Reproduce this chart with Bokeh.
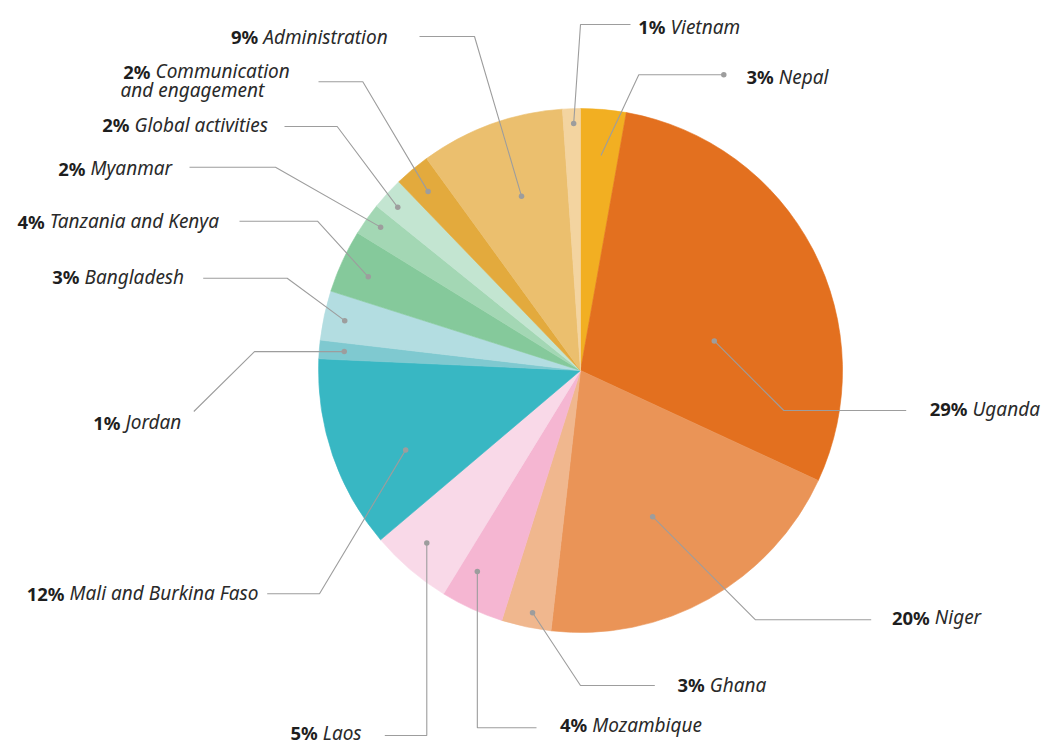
import math
from bokeh.plotting import figure
from bokeh.models import Range1d, ColumnDataSource
from bokeh.core.properties import value
from bokeh.embed import file_html
from bokeh.resources import INLINE

# ---------------- data ----------------
names = ["Nepal", "Uganda", "Niger", "Ghana", "Mozambique", "Laos",
         "Mali and Burkina Faso", "Jordan", "Bangladesh", "Tanzania and Kenya",
         "Myanmar", "Global activities", "Communication\nand engagement",
         "Administration", "Vietnam"]
shares = [2.8, 29.1, 19.9, 3.06, 3.9, 5.06, 11.9, 1.14, 3.05, 3.9,
          2.0, 2.0, 2.2, 8.9, 1.1]
pct_labels = ["3%", "29%", "20%", "3%", "4%", "5%", "12%", "1%", "3%", "4%",
              "2%", "2%", "2%", "9%", "1%"]
colors = ["#F2AF22", "#E3701F", "#EA9457", "#F0B78E", "#F5B6D2", "#F9D9E8",
          "#38B7C3", "#7FC9D0", "#B3DDE1", "#85C99B", "#A3D7B4", "#C3E5D1",
          "#E3AA3D", "#EBBF6E", "#F3D4A0"]

# ---------------- layout (screen pixels of the page) ----------------
CX, CY, R = 580, 370, 262
def X(sx): return sx - CX
def Y(sy): return CY - sy

dot_frac = [0.54, 0.644, 0.543, 0.43, 0.69, 0.56, 0.37, 0.49, 0.48, 0.44,
            0.55, 0.40, 0.44, 0.54, 0.6]
dot_r = [216, 137, 163, 247, 226, 231, 192, 237, 241, 232, 246, 245, 235, 184, 247]
elbow = [(638.3, 74.3), (783.3, 410), (755, 619.3), (580, 685), (None, 727.3),
         (None, 735), (319, 593.3), (254, None), (286.7, 277.7), (317, 220.7),
         (275, 166.7), (336.7, 126), (362.3, 81.3), (474, 36), (580, 24)]
line_end = [(723.3, 74.3), (905.7, 410), (870.7, 619.3), (654.3, 685), (536, 727.3),
            (384.3, 735), (266.7, 593.3), (193.3, 411), (202.7, 277.7), (239, 220.7),
            (189, 166.7), (284, 126), (318, 81.3), (419, 36), (630, 24)]
dot_at_end = [True] + [False] * 14
# (percent-left x used for wrapped lines, name-left x, centre y)
label_pos = [(745, 778.3, 76), (929.3, 972, 408.3), (888.3, 934.3, 616.7),
             (675, 709.3, 684), (556, 591.7, 724), (287.3, 322.3, 732),
             (26.7, 69, 592.7), (93.3, 125, 421.7), (50, 84, 276),
             (13.3, 49.3, 220.7), (55, 90, 167.7), (99.3, 134, 124),
             (120, 155, 70.7), (226.7, 262.7, 36), (638.3, 670, 26)]
LINE_H = 18.6
GAP = 5

W, H = 1043, 747
p = figure(width=W, height=H, output_backend="svg", toolbar_location=None,
           x_range=Range1d(-CX, W - CX), y_range=Range1d(CY - H, CY),
           min_border=0, x_axis_type=None, y_axis_type=None)
p.grid.visible = False
p.outline_line_color = None
p.background_fill_color = "white"
p.border_fill_color = "white"

total = sum(shares)
starts, ends = [], []
cum = 0.0
for s in shares:
    f = s / total
    starts.append(math.pi / 2 - 2 * math.pi * cum)
    ends.append(math.pi / 2 - 2 * math.pi * (cum + f))
    cum += f

src = ColumnDataSource(dict(start=starts, end=ends, color=colors))
p.wedge(x=0, y=0, radius=R, start_angle="start", end_angle="end",
        direction="clock", fill_color="color", line_color="color",
        line_width=0.6, source=src)

# leader lines
xs, ys, dx_, dy_ = [], [], [], []
for i in range(len(shares)):
    a = starts[i] + (ends[i] - starts[i]) * dot_frac[i]
    px, py = dot_r[i] * math.cos(a), dot_r[i] * math.sin(a)
    ex = X(elbow[i][0]) if elbow[i][0] is not None else px
    ey = Y(elbow[i][1]) if elbow[i][1] is not None else py
    lx, ly = X(line_end[i][0]), Y(line_end[i][1])
    xs.append([px, ex, lx])
    ys.append([py, ey, ly])
    if dot_at_end[i]:
        dx_.append(lx); dy_.append(ly)
    else:
        dx_.append(px); dy_.append(py)
p.multi_line(xs, ys, line_color="#9d9d9d", line_width=1.1)
p.scatter(dx_, dy_, size=5.5, fill_color="#9d9d9d", line_color=None)

# labels
px_l, py_l, pt = [], [], []
nx_l, ny_l, nt = [], [], []
for i in range(len(shares)):
    ppx, nnx, yy = label_pos[i]
    px_l.append(X(nnx - GAP)); py_l.append(Y(yy)); pt.append(pct_labels[i])
    lines = names[i].split("\n")
    for k, ln in enumerate(lines):
        nx_l.append(X(nnx) if k == 0 else X(ppx))
        ny_l.append(Y(yy + k * LINE_H))
        nt.append(ln)

p.text(px_l, py_l, text=pt, text_font=value("Noto Sans"), text_font_style="bold",
       text_font_size="18.5px", text_baseline="middle", text_align="right",
       text_color="#1e1e1e")
p.text(nx_l, ny_l, text=nt, text_font=value("Noto Sans"), text_font_style="italic",
       text_font_size="19px", text_baseline="middle", text_align="left",
       text_color="#2a2a2a")

open("out.html", "w").write(file_html(p, INLINE))
